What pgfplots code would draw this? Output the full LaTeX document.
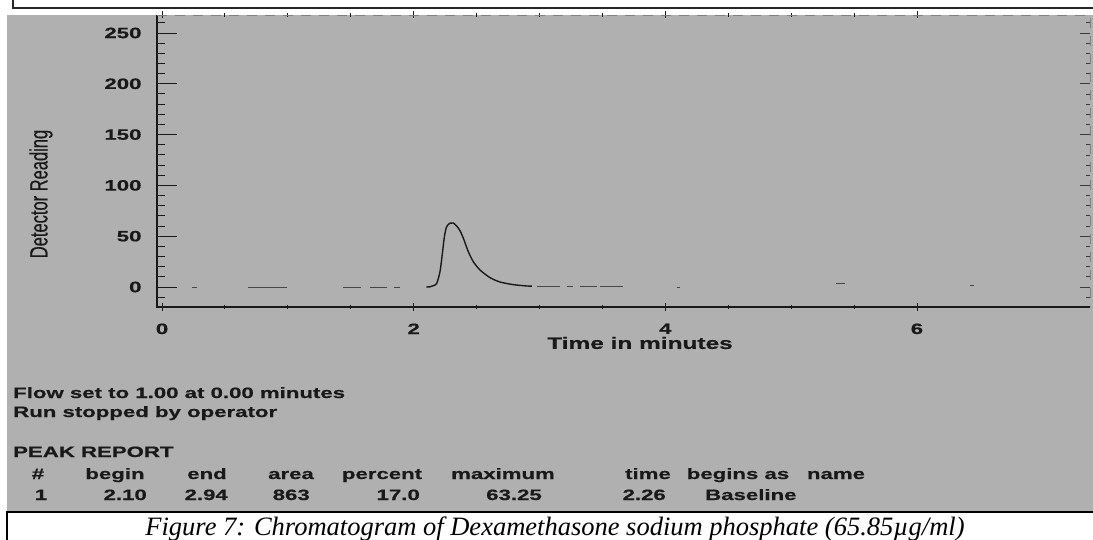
\documentclass[border=0pt]{standalone}
\usepackage{pgfplots}
\pgfplotsset{compat=1.18}
\usepackage{fontspec}
\setmainfont{Liberation Sans}
\newfontfamily\wb{Liberation Sans}[FakeStretch=1.48, FakeBold=0.6]
\newfontfamily\dr{Liberation Sans}[FakeStretch=0.66, FakeBold=0.4]
\newfontfamily\capf{Liberation Serif}
\definecolor{bg}{RGB}{176,176,176}
\definecolor{ink}{RGB}{25,25,25}
\newcommand\fw{\wb\bfseries\fontsize{15}{18}\selectfont}
\newcommand\ft{\wb\bfseries\fontsize{16.5}{19}\selectfont}
\begin{document}
\begin{tikzpicture}
\useasboundingbox (0pt,0pt) rectangle (1093pt,-540pt);
\fill[bg] (7pt,-15pt) rectangle (1093pt,-512pt);
\draw[line width=1.2pt, black!85] (13pt,0pt) -- (13pt,-8pt) -- (1093pt,-8pt);
\draw[line width=1.3pt, black] (7pt,-540pt) -- (7pt,-512pt) -- (1093pt,-512pt);

% main axis: x ticks, data, spines
\begin{axis}[
  at={(157pt,-307pt)}, anchor=south west,
  width=933pt, height=292pt, scale only axis,
  xmin=-0.04, xmax=7.375, ymin=-19.7, ymax=267.7,
  axis line style={draw=none},
  xtick={0,2,4,6}, minor x tick num=3,
  ytick=\empty,
  tick align=center, major tick length=7pt, minor tick length=4pt,
  tick style={ink, line width=0.9pt},
  /pgf/number format/assume math mode=true,
  xticklabel style={font=\fw, text=ink, yshift=-9.5pt},
  clip=false, unbounded coords=jump,
]
% baseline fragments at zero
\addplot[ink!80, line width=0.9pt] coordinates {
 (0.24,0) (0.28,0) (0.28,nan)
 (0.68,0) (0.99,0) (0.99,nan)
 (1.44,0) (1.58,0) (1.58,nan)
 (1.65,0) (1.79,0) (1.79,nan)
 (1.84,0) (1.89,0) (1.89,nan)
 (2.98,0.5) (3.16,0.5) (3.16,nan)
 (3.22,0.5) (3.27,0.5) (3.27,nan)
 (3.32,0.5) (3.46,0.5) (3.46,nan)
 (3.48,0.5) (3.66,0.5) (3.66,nan)
 (4.09,0) (4.12,0) (4.12,nan)
 (5.36,3) (5.43,3) (5.43,nan)
 (6.42,2) (6.45,2)
};
% peak
\addplot[ink, line width=1.4pt, smooth, tension=0.45] coordinates {
 (2.10,0) (2.130,0.2) (2.157,1.3) (2.183,3.6) (2.209,15) (2.228,33)
 (2.244,49.5) (2.262,59.4) (2.289,62.8) (2.315,63.0) (2.342,60)
 (2.368,55.4) (2.395,47.9) (2.434,34.8) (2.474,24.9) (2.527,16.7)
 (2.607,9.2) (2.686,4.9) (2.792,2.3) (2.898,1.0) (2.94,0.8)
};
\draw[ink, line width=1.4pt] (rel axis cs:0,1) -- (rel axis cs:0,0) -- (rel axis cs:1,0);
\draw[ink!55, line width=0.6pt, dash pattern=on 10pt off 8pt] (rel axis cs:0,1) -- (rel axis cs:1,1) -- (rel axis cs:1,0);
\end{axis}

% left y ticks
\begin{axis}[
  at={(157pt,-307pt)}, anchor=south west,
  width=933pt, height=292pt, scale only axis,
  xmin=-0.04, xmax=7.375, ymin=-19.7, ymax=267.7,
  hide x axis, axis line style={draw=none},
  ytick={0,50,...,250},
  minor ytick={-10,10,20,30,40,60,70,80,90,110,120,130,140,160,170,180,190,210,220,230,240,260},
  ytick pos=left, tick align=inside,
  major tick length=20pt, minor tick length=8pt,
  tick style={ink, line width=0.9pt},
  /pgf/number format/assume math mode=true,
  yticklabel style={font=\fw, text=ink, xshift=-12pt},
]
\end{axis}

% right y ticks
\begin{axis}[
  at={(157pt,-307pt)}, anchor=south west,
  width=933pt, height=292pt, scale only axis,
  xmin=-0.04, xmax=7.375, ymin=-19.7, ymax=267.7,
  hide x axis, axis line style={draw=none},
  ytick={0,50,...,250}, yticklabels={},
  minor ytick={-10,10,20,30,40,60,70,80,90,110,120,130,140,160,170,180,190,210,220,230,240,260},
  ytick pos=right, tick align=inside,
  major tick length=10pt, minor tick length=4pt,
  tick style={ink!85, line width=0.8pt},
]
\end{axis}

\node[font=\ft, text=ink] at (640pt,-343pt) {Time in minutes};
\node[font=\dr\fontsize{25}{28}\selectfont, text=ink, rotate=90] at (41pt,-194pt) {Detector Reading};

\begin{scope}[every node/.style={inner sep=0pt, font=\fw, text=ink}]
\node[anchor=base west] at (13pt,-398pt) {Flow set to 1.00 at 0.00 minutes};
\node[anchor=base west] at (13pt,-417pt) {Run stopped by operator};
\node[anchor=base west] at (13pt,-457pt) {PEAK REPORT};
% header row
\node[anchor=base] at (38pt,-479pt) {\#};
\node[anchor=base] at (115pt,-479pt) {begin};
\node[anchor=base] at (207pt,-479pt) {end};
\node[anchor=base] at (291pt,-479pt) {area};
\node[anchor=base] at (382pt,-479pt) {percent};
\node[anchor=base] at (503pt,-479pt) {maximum};
\node[anchor=base] at (648pt,-479pt) {time};
\node[anchor=base] at (738pt,-479pt) {begins as};
\node[anchor=base] at (836pt,-479pt) {name};
% values row
\node[anchor=base] at (41pt,-500pt) {1};
\node[anchor=base east] at (147pt,-500pt) {2.10};
\node[anchor=base east] at (228pt,-500pt) {2.94};
\node[anchor=base east] at (310pt,-500pt) {863};
\node[anchor=base east] at (420pt,-500pt) {17.0};
\node[anchor=base east] at (542pt,-500pt) {63.25};
\node[anchor=base east] at (666pt,-500pt) {2.26};
\node[anchor=base west] at (705pt,-500pt) {Baseline};
\end{scope}

\node[anchor=base, inner sep=0pt, font=\capf\itshape\fontsize{26.5}{30}\selectfont] at (555pt,-535pt) {Figure 7: Chromatogram of Dexamethasone sodium phosphate (65.85µg/ml)};
\end{tikzpicture}
\end{document}
